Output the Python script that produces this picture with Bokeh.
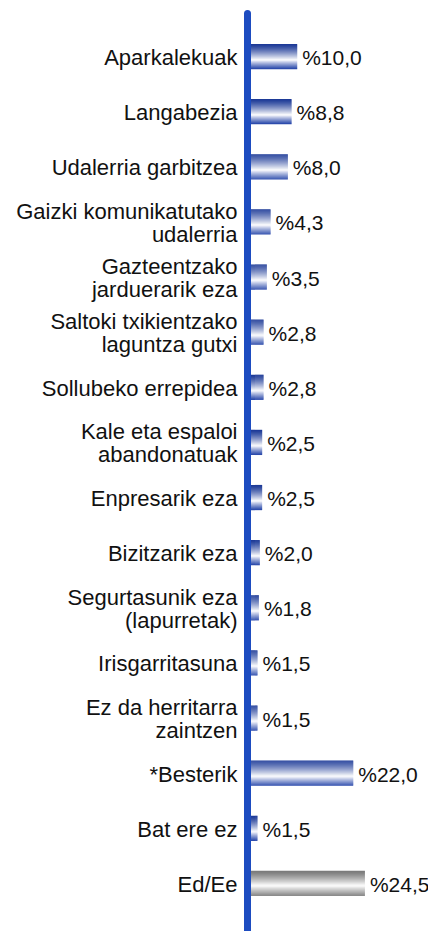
from bokeh.plotting import figure
from bokeh.models import ColumnDataSource, Range1d
from bokeh.core.properties import value
from bokeh.embed import file_html
from bokeh.resources import INLINE

categories = [
    "Aparkalekuak",
    "Langabezia",
    "Udalerria garbitzea",
    "Gaizki komunikatutako\nudalerria",
    "Gazteentzako\njarduerarik eza",
    "Saltoki txikientzako\nlaguntza gutxi",
    "Sollubeko errepidea",
    "Kale eta espaloi\nabandonatuak",
    "Enpresarik eza",
    "Bizitzarik eza",
    "Segurtasunik eza\n(lapurretak)",
    "Irisgarritasuna",
    "Ez da herritarra\nzaintzen",
    "*Besterik",
    "Bat ere ez",
    "Ed/Ee",
]
values = [10.0, 8.8, 8.0, 4.3, 3.5, 2.8, 2.8, 2.5, 2.5, 2.0, 1.8, 1.5, 1.5, 22.0, 1.5, 24.5]
is_grey = [False] * 15 + [True]

W, H = 428, 931
px_per_unit_x = 4.67
x0_px = 250.0
px_per_row = 55.13
row0_px = 56.0

p = figure(width=W, height=H, output_backend="svg", toolbar_location=None,
           min_border=0, outline_line_color=None)
p.x_range = Range1d(-x0_px / px_per_unit_x, (W - x0_px) / px_per_unit_x)
p.y_range = Range1d(-(H - row0_px) / px_per_row, row0_px / px_per_row)
p.axis.visible = False
p.grid.visible = False
p.background_fill_color = "white"
p.border_fill_color = "white"


def lerp(c1, c2, t):
    return tuple(int(round(a + (b - a) * t)) for a, b in zip(c1, c2))


def grad(t, dark_top, dark_bot, mid=0.64):
    white = (255, 255, 255)
    if t <= mid:
        c = lerp(dark_top, white, (t / mid) ** 1.3)
    else:
        c = lerp(white, dark_bot, ((t - mid) / (1 - mid)) ** 0.9)
    return "#%02x%02x%02x" % c


bar_h = 25 / px_per_row
N = 25
ys, rights, hs, cols = [], [], [], []
for i, (v, g) in enumerate(zip(values, is_grey)):
    for k in range(N):
        t = (k + 0.5) / N
        ys.append(-i + bar_h / 2 - (k + 0.5) * bar_h / N)
        rights.append(v)
        hs.append(bar_h / N * 1.25)
        if g:
            cols.append(grad(t, (120, 120, 120), (135, 135, 135), 0.6))
        else:
            cols.append(grad(t, (26, 56, 150), (34, 66, 168)))
src = ColumnDataSource(dict(y=ys, right=rights, h=hs, c=cols))
p.hbar(y="y", left=0, right="right", height="h", fill_color="c", line_color=None, source=src)

# axis line
ax_x = -3.0 / px_per_unit_x
p.line(x=[ax_x, ax_x], y=[(row0_px - 13) / px_per_row, -17], line_width=7,
       line_color="#1d4cc0", line_cap="round")

lab = ColumnDataSource(dict(
    y=[-i for i in range(len(categories))],
    x=[0.0] * len(categories),
    v=values,
    t=categories,
    vt=["%" + f"{v:.1f}".replace(".", ",") for v in values],
))
p.text(x="x", y="y", text="t", source=lab, x_offset=-13, y_offset=1,
       text_align="right", text_baseline="middle", text_font=value("Liberation Sans"),
       text_font_size="22px", text_color="#111111", text_line_height=0.92)
p.text(x="v", y="y", text="vt", source=lab, x_offset=5, y_offset=1,
       text_align="left", text_baseline="middle", text_font=value("Liberation Sans"),
       text_font_size="21px", text_color="#111111")

open("out.html", "w").write(file_html(p, INLINE))
